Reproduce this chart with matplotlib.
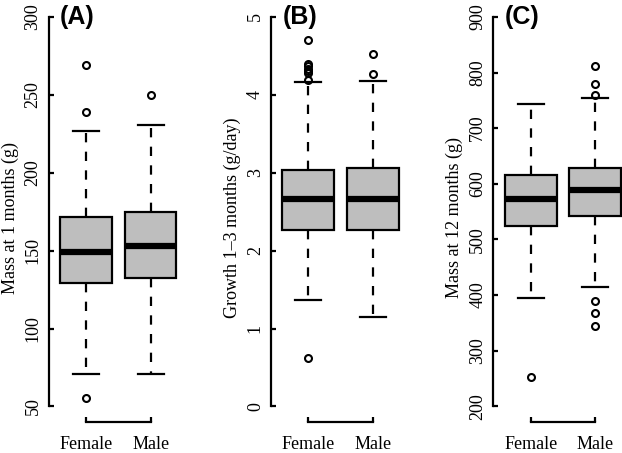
import matplotlib.pyplot as plt

plt.rcParams['font.family'] = ['Liberation Serif', 'DejaVu Serif']

groups = ['Female', 'Male']
panels = ['(A)', '(B)', '(C)']
ylabels = ['Mass at 1 months (g)', 'Growth 1\u20133 months (g/day)', 'Mass at 12 months (g)']
ylims = [(50, 300), (0, 5), (200, 900)]
yticks = [[50, 100, 150, 200, 250, 300], [0, 1, 2, 3, 4, 5],
          [200, 300, 400, 500, 600, 700, 800, 900]]

# box summaries per panel: [Female, Male]
med = [[149.4, 152.8], [2.66, 2.66], [573, 589.5]]
q1 = [[129.5, 132.5], [2.27, 2.27], [524.8, 542.7]]
q3 = [[171.8, 174.8], [3.03, 3.06], [615.3, 628.5]]
whislo = [[70.5, 70.5], [1.37, 1.15], [394.8, 414.6]]
whishi = [[227, 230.8], [4.16, 4.18], [744, 754]]
fliers = [
    [[269, 239, 55.6], [250]],
    [[4.70, 4.395, 4.365, 4.33, 4.30, 4.28, 4.19, 0.62], [4.52, 4.27]],
    [[252], [812, 779.5, 760, 390, 367.8, 345]],
]

W, H = 622, 453
fig = plt.figure(figsize=(W / 100, H / 100), dpi=100)

centers = [86, 308.3, 530.7]
unit = 64.6
bottom_px, height_px = 31, 420.7

for i in range(3):
    left_px = centers[i] - 0.58 * unit
    ax = fig.add_axes([left_px / W, bottom_px / H, 2.16 * unit / W, height_px / H])
    stats = []
    for j in range(2):
        stats.append(dict(med=med[i][j], q1=q1[i][j], q3=q3[i][j],
                          whislo=whislo[i][j], whishi=whishi[i][j],
                          fliers=fliers[i][j], label=groups[j]))
    ax.bxp(stats, positions=[1, 2], widths=0.8, capwidths=0.4, patch_artist=True,
           boxprops=dict(facecolor='#BEBEBE', edgecolor='black', linewidth=1.6),
           medianprops=dict(color='black', linewidth=4.5, solid_capstyle='butt'),
           whiskerprops=dict(color='black', linewidth=1.6, linestyle=(0, (4.2, 4.2))),
           capprops=dict(color='black', linewidth=1.6),
           flierprops=dict(marker='o', markerfacecolor='none', markeredgecolor='black',
                           markersize=5, markeredgewidth=1.5))
    lo, hi = ylims[i]
    pad = 0.04 * (hi - lo)
    ax.set_ylim(lo - pad, hi + pad)
    ax.set_xlim(0.42, 2.58)
    ax.set_yticks(yticks[i])
    ax.set_yticklabels([str(t) for t in yticks[i]], rotation=90, va='center')
    ax.set_xticks([1, 2])
    ax.set_xticklabels(groups)
    ax.tick_params(axis='both', direction='in', length=3.5, width=1.6, labelsize=13)
    ax.tick_params(axis='y', pad=5)
    ax.tick_params(axis='x', pad=10)
    for s in ['top', 'right']:
        ax.spines[s].set_visible(False)
    ax.spines['left'].set_bounds(lo, hi)
    ax.spines['bottom'].set_bounds(1, 2)
    ax.spines['left'].set_linewidth(1.6)
    ax.spines['bottom'].set_linewidth(1.6)
    ax.patch.set_visible(False)
    ax.set_ylabel(ylabels[i], fontsize=13)
    ax.yaxis.set_label_coords(-0.215, 0.485)
    ax.text(0.6, hi, panels[i], ha='left', va='center', fontsize=18,
            fontweight='bold', family=['Liberation Sans', 'DejaVu Sans'])

fig.savefig('out.png', dpi=100)
